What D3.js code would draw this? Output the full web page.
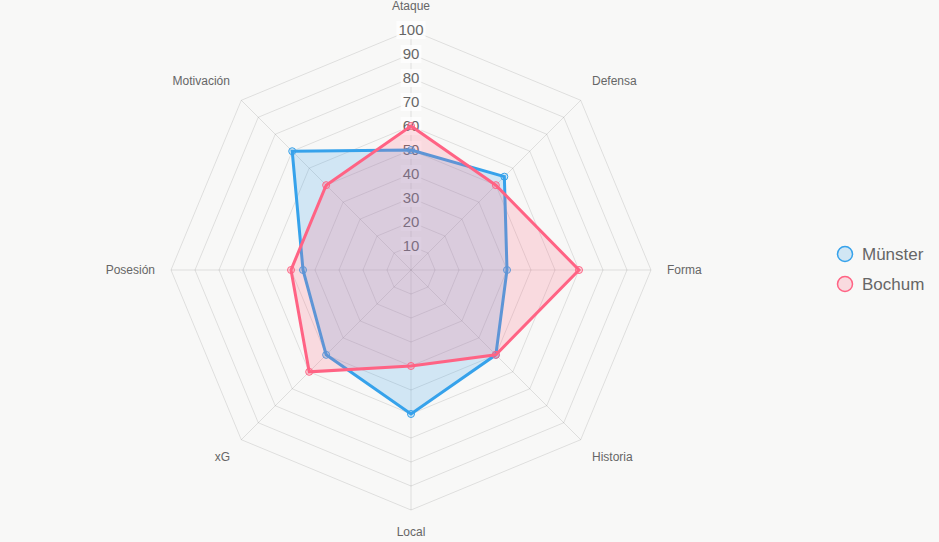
<!DOCTYPE html>
<html><head><meta charset="utf-8">
<script src="https://cdn.jsdelivr.net/npm/d3@7"></script>
<style>
html,body{margin:0;padding:0;background:#f8f8f7;}
svg{display:block;font-family:"Liberation Sans",Arial,Helvetica,sans-serif;}
</style></head><body>
<svg id="c" width="939" height="542"></svg>
<script>
const categories = ["Ataque","Defensa","Forma","Historia","Local","xG","Posesión","Motivación"];
const seriesNames = ["Münster","Bochum"];
const munster = [50,55,40,50,60,50,45,70];
const bochum = [60,50,70,50,40,60,50,50];
const tickValues = [10,20,30,40,50,60,70,80,90,100];
const colors = ["rgb(54,162,235)","rgb(255,99,132)"];
const fills = ["rgba(54,162,235,0.2)","rgba(255,99,132,0.2)"];

const svg = d3.select("#c");
const cx = 411, cy = 270, R = 240;
const r = d3.scaleLinear().domain([0,100]).range([0,R]);
const n = categories.length;
const ang = i => -Math.PI/2 + i*2*Math.PI/n;
const pt = (i,v) => [cx + r(v)*Math.cos(ang(i)), cy + r(v)*Math.sin(ang(i))];

const g = svg.append("g");
// grid
tickValues.forEach(t => {
  g.append("polygon")
   .attr("points", categories.map((c,i)=>pt(i,t).join(",")).join(" "))
   .attr("fill","none").attr("stroke","rgba(0,0,0,0.1)").attr("stroke-width",1);
});
categories.forEach((c,i)=>{
  const p = pt(i,100);
  g.append("line").attr("x1",cx).attr("y1",cy).attr("x2",p[0]).attr("y2",p[1])
   .attr("stroke","rgba(0,0,0,0.1)").attr("stroke-width",1);
});
// point labels
categories.forEach((c,i)=>{
  const a = ang(i);
  const x = cx + (R+16)*Math.cos(a), y = cy + (R+16)*Math.sin(a);
  const cosA = Math.cos(a), sinA = Math.sin(a);
  let anchor = Math.abs(cosA)<0.01 ? "middle" : (cosA>0 ? "start":"end");
  let dy = Math.abs(sinA)<0.01 ? "0.3em" : (sinA<0 ? "-0.3em" : "0.8em");
  g.append("text").attr("x",x).attr("y",y).attr("dy",dy)
   .attr("text-anchor",anchor).attr("font-size",12).attr("fill","#666").text(c);
});
// ticks with backdrop
tickValues.forEach(t=>{
  const y = cy - r(t);
  const txt = g.append("text").attr("x",cx).attr("y",y).attr("dy","0.35em")
    .attr("text-anchor","middle").attr("font-size",15).attr("fill","#666").text(t);
  const bb = txt.node().getBBox();
  g.insert("rect", function(){return txt.node();})
   .attr("x",bb.x-2).attr("y",y-9).attr("width",bb.width+4).attr("height",18)
   .attr("fill","rgba(255,255,255,0.75)");
});
// datasets
const data = [munster,bochum];
data.forEach((vals,k)=>{
  const pts = vals.map((v,i)=>pt(i,v));
  g.append("polygon").attr("points",pts.map(p=>p.join(",")).join(" "))
   .attr("fill",fills[k]).attr("stroke",colors[k]).attr("stroke-width",3)
   .attr("stroke-linejoin","miter");
  pts.forEach(p=>{
    g.append("circle").attr("cx",p[0]).attr("cy",p[1]).attr("r",3.5)
     .attr("fill",fills[k]).attr("stroke",colors[k]).attr("stroke-width",1);
  });
});
// legend
seriesNames.forEach((s,k)=>{
  const y = 254 + k*30;
  svg.append("circle").attr("cx",845).attr("cy",y).attr("r",7.5)
    .attr("fill",fills[k]).attr("stroke",colors[k]).attr("stroke-width",1.5);
  svg.append("text").attr("x",862).attr("y",y).attr("dy","0.35em")
    .attr("font-size",17).attr("fill","#666").text(s);
});
</script>
</body></html>
